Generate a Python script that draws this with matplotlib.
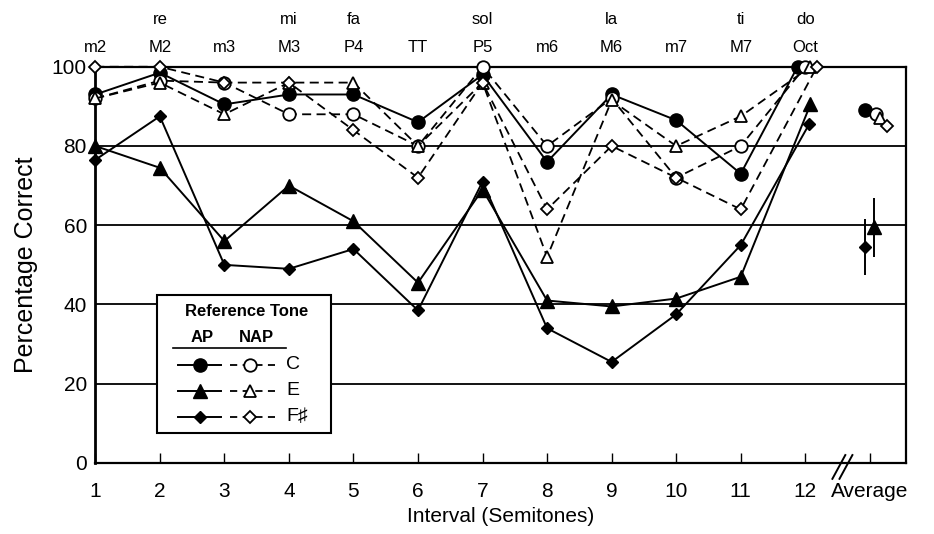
import matplotlib
matplotlib.use("Agg")
import matplotlib.pyplot as plt
from matplotlib.patches import Rectangle
from matplotlib.lines import Line2D
import matplotlib.transforms as mtransforms

plt.rcParams['font.family'] = ['Liberation Sans', 'DejaVu Sans']

# ---------------- data ----------------
semitones = [1, 2, 3, 4, 5, 6, 7, 8, 9, 10, 11, 12]
interval_names = ['m2', 'M2', 'm3', 'M3', 'P4', 'TT', 'P5', 'm6', 'M6', 'm7', 'M7', 'Oct']
solfege_pos = [2, 4, 5, 7, 9, 11, 12]
solfege_names = ['re', 'mi', 'fa', 'sol', 'la', 'ti', 'do']

C_AP = [93, 98.5, 90.5, 93, 93, 86, 98, 76, 93, 86.5, 73, 100]
E_AP = [80, 74.5, 56, 70, 61, 45.5, 69, 41, 39.5, 41.5, 47, 90.5]
F_AP = [76.5, 87.5, 50, 49, 54, 38.5, 71, 34, 25.5, 37.5, 55, 85.5]
C_NAP = [92, 96.5, 96, 88, 88, 80, 100, 80, 92, 72, 80, 100]
E_NAP = [92, 96, 88, 96, 96, 80, 96, 52, 91.5, 80, 87.5, 100]
F_NAP = [100, 100, 96, 96, 84, 72, 96, 64, 80, 72, 64, 100]

avg_AP = [89, 59.5, 54.5]
avg_AP_err = [0, 7.5, 7]
avg_NAP = [88, 87, 85]

x_ticks = semitones + [13]
x_ticklabels = [str(s) for s in semitones] + ['Average']
y_ticks = [0, 20, 40, 60, 80, 100]
legend_tones = ['C', 'E', 'F\u266f']

# ---------------- figure ----------------
fig = plt.figure(figsize=(9.34, 5.34), dpi=100)
ax = fig.add_axes([0.102, 0.133, 0.868, 0.742])
ax.set_xlim(1, 13.56)
ax.set_ylim(0, 100)

for yv in [20, 40, 60, 80]:
    ax.axhline(yv, color='black', lw=1.3, zorder=1)

for sp in ax.spines.values():
    sp.set_linewidth(1.6)
ax.spines['left'].set_linewidth(2.0)

solid = dict(color='black', lw=1.4, ls='-', zorder=3, clip_on=False)
dashed = dict(color='black', lw=1.3, ls=(0, (5, 3)), zorder=3, clip_on=False)

# slight offsets at octave to separate overlapping markers
def shifted(vals, dx):
    return [s + (dx if s == 12 else 0) for s in semitones]

ax.plot(shifted(C_AP, -0.12), C_AP, marker='o', ms=9.5, mfc='black', mec='black', **solid)
ax.plot(shifted(E_AP, 0.08), E_AP, marker='^', ms=9.5, mfc='black', mec='black', **solid)
ax.plot(shifted(F_AP, 0.06), F_AP, marker='D', ms=6.5, mfc='black', mec='black', **solid)
ax.plot(shifted(C_NAP, 0.0), C_NAP, marker='o', ms=9, mfc='white', mec='black', mew=1.3, **dashed)
ax.plot(shifted(E_NAP, 0.08), E_NAP, marker='^', ms=9, mfc='white', mec='black', mew=1.3, **dashed)
ax.plot(shifted(F_NAP, 0.18), F_NAP, marker='D', ms=6.5, mfc='white', mec='black', mew=1.3, **dashed)

# averages
ap_x = [12.92, 13.06, 12.92]
ap_m = ['o', '^', 'D']
ap_ms = [9.5, 9.5, 6.5]
for xv, yv, e, m, ms in zip(ap_x, avg_AP, avg_AP_err, ap_m, ap_ms):
    if e > 0:
        ax.errorbar([xv], [yv], yerr=[e], fmt='none', ecolor='black', elinewidth=1.4, capsize=0, zorder=4)
    ax.plot([xv], [yv], marker=m, ms=ms, color='black', ls='none', zorder=5)
nap_x = [13.1, 13.16, 13.27]
for xv, yv, m, ms in zip(nap_x, avg_NAP, ['o', '^', 'D'], [9, 9, 6.5]):
    ax.plot([xv], [yv], marker=m, ms=ms, mfc='white', mec='black', mew=1.3, ls='none', zorder=5)

# ticks
ax.set_xticks(x_ticks)
ax.set_xticklabels(x_ticklabels)
ax.tick_params(axis='x', direction='in', length=7, width=1.0, labelsize=15, pad=14)
ax.set_yticks(y_ticks)
ax.tick_params(axis='y', length=0, labelsize=15, pad=6)
ax.set_xlabel('Interval (Semitones)', fontsize=15, labelpad=4)
ax.set_ylabel('Percentage Correct', fontsize=18, labelpad=10)

# axis break mark
for dx in (0.0, 0.11):
    ax.plot([12.42 + dx, 12.62 + dx], [-4, 2], color='black', lw=1.4, clip_on=False, zorder=6)

# top labels
trans = mtransforms.blended_transform_factory(ax.transData, ax.transAxes)
for s, name in zip(semitones, interval_names):
    ax.text(s, 1.048, name, transform=trans, ha='center', va='center', fontsize=12)
for s, name in zip(solfege_pos, solfege_names):
    ax.text(s, 1.12, name, transform=trans, ha='center', va='center', fontsize=12)

# legend (manual)
def fx(px):
    return (px - 95) / 815.0
def fy(py):
    return (463 - py) / 396.0

T = ax.transAxes
ax.add_patch(Rectangle((fx(157), fy(433)), fx(332) - fx(157), fy(295) - fy(433),
                       transform=T, facecolor='white', edgecolor='black', lw=1.5, zorder=7))
ax.text(fx(247), fy(312), 'Reference Tone', transform=T, ha='center', va='center',
        fontsize=12, fontweight='bold', zorder=8)
ax.text(fx(202), fy(338), 'AP', transform=T, ha='center', va='center',
        fontsize=12, fontweight='bold', zorder=8)
ax.text(fx(257), fy(338), 'NAP', transform=T, ha='center', va='center',
        fontsize=12, fontweight='bold', zorder=8)
ax.add_line(Line2D([fx(173), fx(287)], [fy(348), fy(348)], transform=T, color='black', lw=1.2, zorder=8))
rows = [365, 391, 417]
mk = [('o', 9.5, 9), ('^', 9.5, 9), ('D', 6.5, 6.5)]
for py, (m, ms1, ms2), lab in zip(rows, mk, legend_tones):
    ax.add_line(Line2D([fx(178), fx(221)], [fy(py), fy(py)], transform=T, color='black', lw=1.4, zorder=8))
    ax.add_line(Line2D([fx(200)], [fy(py)], transform=T, marker=m, ms=ms1, color='black', ls='none', zorder=9))
    ax.add_line(Line2D([fx(230), fx(276)], [fy(py), fy(py)], transform=T, color='black', lw=1.3,
                       ls=(0, (4, 3)), zorder=8))
    ax.add_line(Line2D([fx(251)], [fy(py)], transform=T, marker=m, ms=ms2, mfc='white', mec='black',
                       mew=1.3, ls='none', zorder=9))
    ax.text(fx(287), fy(py), lab, transform=T, ha='left', va='center', fontsize=14, zorder=9)

fig.savefig('out.png', dpi=100)
